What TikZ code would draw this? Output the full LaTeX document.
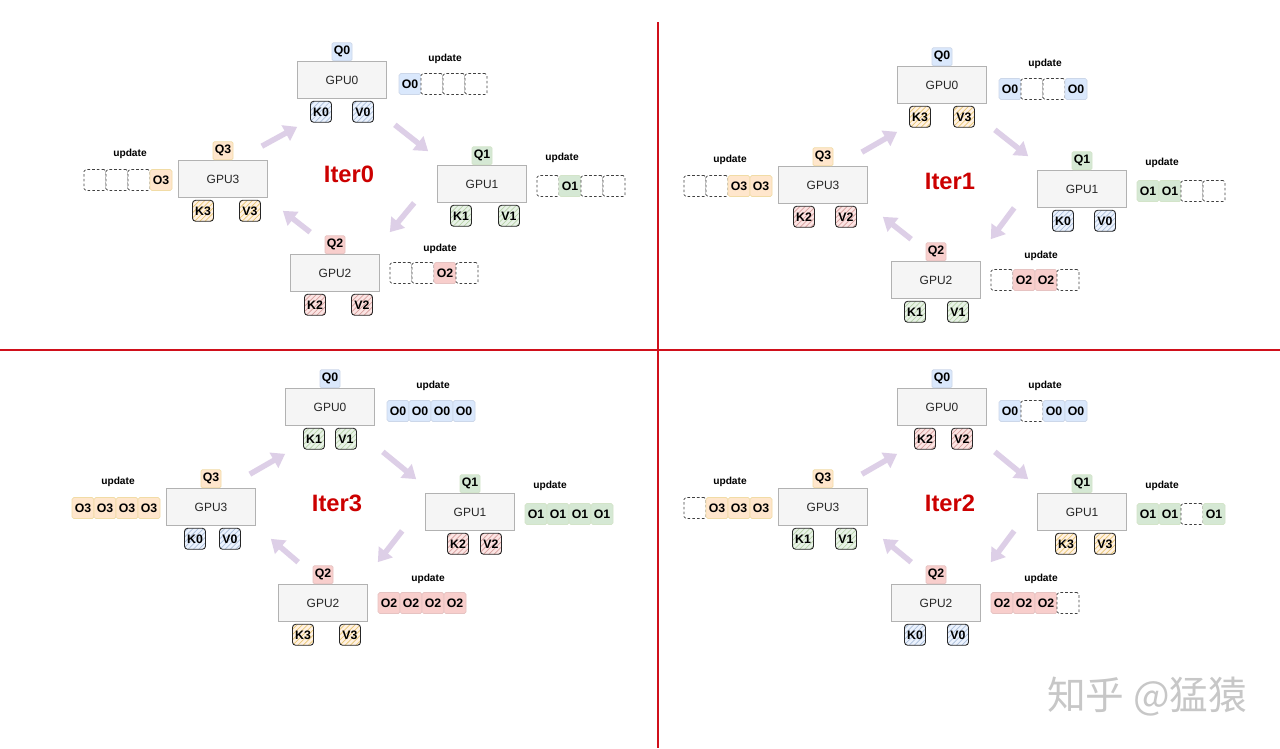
\documentclass[tikz,border=0pt]{standalone}
\usepackage{fontspec}
\setmainfont{Liberation Sans}
\newfontfamily\cjkfont{Noto Sans CJK SC}
\usepackage{tikz}
\usetikzlibrary{arrows.meta,positioning,calc,patterns}
\definecolor{fill0}{HTML}{DAE8FC}\definecolor{line0}{HTML}{6C8EBF}
\definecolor{fill1}{HTML}{D5E8D4}\definecolor{line1}{HTML}{82B366}
\definecolor{fill2}{HTML}{F8CECC}\definecolor{line2}{HTML}{B85450}
\definecolor{fill3}{HTML}{FFE6CC}\definecolor{line3}{HTML}{D79B00}
\definecolor{flowc}{HTML}{DDCFE7}
\definecolor{iterred}{HTML}{CC0000}
\definecolor{sepred}{HTML}{D0101B}

\begin{document}
\begin{tikzpicture}[
  x=0.02cm, y=-0.02cm,
  lbl/.style={font=\fontsize{7}{8}\selectfont\bfseries, inner sep=0pt},
  gpu/.style={draw=black!30, fill=black!4, minimum width=1.78cm, minimum height=0.74cm,
    inner sep=0pt, text=black!85, font=\fontsize{6.8}{7}\selectfont},
  qbox/.style={lbl, minimum width=0.4cm, minimum height=0.36cm, rounded corners=0.8pt},
  kvbox/.style={lbl, draw=black!85, line width=0.5pt, rounded corners=1.8pt, minimum size=0.42cm},
  cell/.style={lbl, minimum width=0.44cm, minimum height=0.42cm, rounded corners=1pt},
  celle/.style={cell, draw=black!75, fill=white, dash pattern=on 1.5pt off 1.2pt},
  cello/.style={cell, fill=fill\g, draw=line\g!35},
  upd/.style={font=\fontsize{5.8}{7}\selectfont\bfseries, inner sep=0pt},
  iter/.style={font=\fontsize{13.5}{15}\selectfont\bfseries, text=iterred},
  flow/.style={draw=flowc, line width=0.11cm, -{Triangle[length=0.26cm, width=0.34cm]}},
  sep/.style={draw=sepred, line width=0.9pt},
  wm/.style={font=\cjkfont\fontsize{22}{24}\selectfont, text=black!22},
]
\path[fill=white, use as bounding box] (0,0) rectangle (1280,748);
% separators
\draw[sep] (658,22) -- (658,748);
\draw[sep] (0,350) -- (1280,350);
% gpus: quadrant/gpu/x/y/kv/kx/vx/cells
\foreach \q/\g/\x/\y/\k/\kx/\vx/\ca/\cb/\cc/\cd in {
  0/0/342/80/0/-21/21/o/e/e/e, 0/1/482/184/1/-21/27/e/o/e/e,
  0/2/335/273/2/-20/27/e/e/o/e, 0/3/223/179/3/-20/27/e/e/e/o,
  1/0/942/85/3/-22/22/o/e/e/o, 1/1/1082/189/0/-19/23/o/o/e/e,
  1/2/936/280/1/-21/22/e/o/o/e, 1/3/823/185/2/-19/23/e/e/o/o,
  2/0/942/407/2/-17/20/o/e/o/o, 2/1/1082/512/3/-16/23/o/o/e/o,
  2/2/936/603/0/-21/22/o/o/o/e, 2/3/823/507/1/-20/23/e/o/o/o,
  3/0/330/407/1/-16/16/o/o/o/o, 3/1/470/512/2/-12/21/o/o/o/o,
  3/2/323/603/3/-20/27/o/o/o/o, 3/3/211/507/0/-16/19/o/o/o/o}{
  \pgfmathsetmacro\cx{{68,66,66,-128}[\g]}
  \pgfmathsetmacro\cy{{4,2,0,1}[\g]}
  \pgfmathsetmacro\ux{{103,80,105,-93}[\g]}
  \pgfmathsetmacro\uy{{-21,-26,-24,-25}[\g]}
  \node[gpu] (G\q\g) at (\x,\y) {GPU\g};
  \node[qbox, fill=fill\g, draw=line\g!35, above=0pt of G\q\g] (Q\q\g) {Q\g};
  \node[kvbox, anchor=north, preaction={fill=fill\k!55}, pattern=north east lines,
    pattern color=line\k!55] (K\q\g) at ($(G\q\g.south)+(\kx,2)$) {K\k};
  \node[kvbox, anchor=north, preaction={fill=fill\k!55}, pattern=north east lines,
    pattern color=line\k!55] (V\q\g) at ($(G\q\g.south)+(\vx,2)$) {V\k};
  \node[upd] (U\q\g) at ($(G\q\g.center)+(\ux,\uy)$) {update};
  \foreach \c [count=\i] in {\ca,\cb,\cc,\cd}{
    \if o\c
      \node[cello] (C\q\g\i) at ($(G\q\g.center)+({\cx+(\i-1)*22},\cy)$) {O\g};
    \else
      \node[celle] (C\q\g\i) at ($(G\q\g.center)+({\cx+(\i-1)*22},\cy)$) {};
    \fi
  }
}
% ring arrows
\foreach \q in {0,1,2,3}{
  \draw[flow] ($(G\q3.north east)+(-6,-14)$) -- ($(G\q0.south west)+(0,28)$);
  \draw[flow] ($(G\q0.south east)+(8,26)$) -- ($(G\q1.north west)+(-9,-14)$);
  \draw[flow] ($(G\q1.south west)+(-23,0)$) -- ($(G\q2.north east)+(10,-22)$);
  \draw[flow] ($(G\q2.north west)+(20,-22)$) -- ($(G\q3.south east)+(15,13)$);
}
\node[iter] (I0) at (349,174) {Iter0};
\node[iter] (I1) at (950,181) {Iter1};
\node[iter] (I2) at (950,503) {Iter2};
\node[iter] (I3) at (337,503) {Iter3};
\node[wm] (wm) at (1147,697) {知乎 @猛猿};
\end{tikzpicture}
\end{document}
